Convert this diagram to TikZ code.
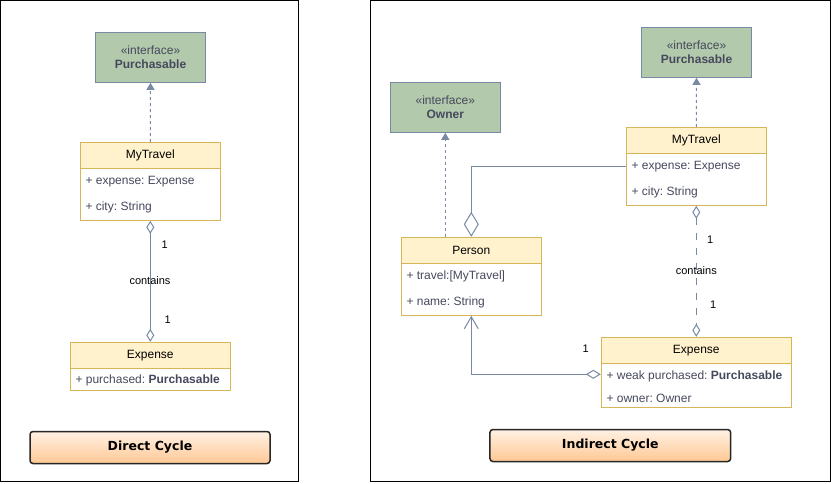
\documentclass[tikz,border=0pt]{standalone}
\usepackage{fontspec}
\setmainfont{Liberation Sans}
\newfontfamily\titlefont{DejaVu Sans}
\usetikzlibrary{arrows.meta,positioning}
\frenchspacing

\definecolor{ifill}{HTML}{B2C9AB}
\definecolor{iline}{HTML}{788AA3}
\definecolor{cfill}{HTML}{FFF2CC}
\definecolor{cline}{HTML}{D6B656}
\definecolor{atext}{HTML}{46495D}
\definecolor{ttop}{HTML}{FFF1E4}
\definecolor{tbot}{HTML}{FFC894}

\tikzset{
    iface/.style={draw=iline, fill=ifill, line width=1pt, minimum width=110pt, minimum height=50pt,
        inner sep=0pt, align=center, text=atext, font=\fontsize{12}{14}\selectfont},
    chead/.style={draw=cline, fill=cfill, line width=1pt, minimum height=26pt, inner sep=0pt,
        font=\fontsize{12}{14}\selectfont},
    cbody/.style={draw=cline, fill=white, line width=1pt, inner sep=0pt},
    attr/.style={anchor=west, inner sep=0pt, text=atext, font=\fontsize{12}{14}\selectfont},
    mult/.style={inner sep=0pt, font=\fontsize{11}{13}\selectfont},
    conn/.style={draw=iline, line width=1pt},
    realize/.style={conn, dash pattern=on 3pt off 3pt, -{Triangle[width=8pt,length=7pt]}},
    aggr/.style={conn, {Diamond[open,width=8pt,length=13pt]}-{Diamond[open,width=8pt,length=13pt]}},
    titlebox/.style={draw=black!85, line width=1.5pt, rounded corners=3pt, top color=ttop, bottom color=tbot,
        minimum width=240pt, minimum height=32pt, font=\titlefont\bfseries\fontsize{12.5}{14}\selectfont}
}

\begin{document}
\begin{tikzpicture}[x=1pt, y=-1pt]

    \useasboundingbox (0,0) rectangle (831,483);

    % the two panels
    \foreach \xa/\xb in {0.5/298.5, 370.5/830.5} {
        \draw[line width=1pt] (\xa, 0.5) rectangle (\xb, 481.5);
    }

    % Direct Cycle
    \node[iface] (pur1) at (150.5, 57.3) {«interface»\\\textbf{Purchasable}};

    \node[chead, minimum width=140pt] (mt1) at (150.3, 155.5) {MyTravel};
    \node[cbody, minimum width=140pt, minimum height=52pt] (mt1b) at (150.3, 194.3) {};
    \node[attr] (mt1exp) at (85.3, 182) {+ expense: Expense};
    \node[attr] (mt1city) at (85.3, 207.7) {+ city: String};

    \node[chead, minimum width=160pt] (ex1) at (150.3, 355.3) {Expense};
    \node[cbody, minimum width=160pt, minimum height=21.7pt] (ex1b) at (150.3, 379.2) {};
    \node[attr] (ex1pur) at (75.3, 380.5) {+ purchased: \textbf{Purchasable}};

    \draw[realize] (mt1.north) -- (pur1.south);
    \draw[aggr] (mt1b.south) -- (ex1.north);
    \node[mult] (m1a) at (164.7, 245) {1};
    \node[mult] (c1) at (150, 281) {contains};
    \node[mult] (m1b) at (167.7, 320) {1};

    \node[titlebox] (t1) at (150, 447.5) {Direct Cycle};

    % Indirect Cycle
    \node[iface] (pur2) at (696.5, 52.3) {«interface»\\\textbf{Purchasable}};
    \node[iface] (own) at (445.3, 107.3) {«interface»\\\textbf{Owner}};

    \node[chead, minimum width=140pt] (mt2) at (696.3, 140.3) {MyTravel};
    \node[cbody, minimum width=140pt, minimum height=52pt] (mt2b) at (696.3, 179.3) {};
    \node[attr] (mt2exp) at (631.3, 166.7) {+ expense: Expense};
    \node[attr] (mt2city) at (631.3, 192.7) {+ city: String};

    \node[chead, minimum width=140pt] (per) at (471.3, 250.3) {Person};
    \node[cbody, minimum width=140pt, minimum height=52pt] (perb) at (471.3, 289.3) {};
    \node[attr] (pertr) at (406.3, 276.7) {+ travel:[MyTravel]};
    \node[attr] (pernm) at (406.3, 302.7) {+ name: String};

    \node[chead, minimum width=190pt] (ex2) at (696.3, 350.3) {Expense};
    \node[cbody, minimum width=190pt, minimum height=43.7pt] (ex2b) at (696.3, 385.2) {};
    \node[attr] (ex2pur) at (606.3, 376.7) {+ weak purchased: \textbf{Purchasable}};
    \node[attr] (ex2own) at (606.3, 398.7) {+ owner: Owner};

    \draw[realize] (mt2.north) -- (pur2.south);
    \draw[realize] (per.north -| own.south) -- (own.south);
    \draw[conn, -{Diamond[open,width=15pt,length=25pt]}] (mt2b.west |- mt2exp) -| (per.north);
    \draw[aggr, dash pattern=on 7pt off 8pt] (mt2b.south) -- (ex2.north);
    \draw[conn, line join=miter, {Diamond[open,width=9pt,length=15pt]}-{Straight Barb[width=14pt,length=12pt]}]
        ([yshift=2.4pt]ex2b.west |- ex2pur) -| (perb.south);

    \node[mult] (m2a) at (710.3, 240) {1};
    \node[mult] (c2) at (696.3, 271) {contains};
    \node[mult] (m2b) at (713.3, 305) {1};
    \node[mult] (m2c) at (585.7, 348.3) {1};

    \node[titlebox, minimum width=240.7pt] (t2) at (610.3, 445.5) {Indirect Cycle};

\end{tikzpicture}
\end{document}
